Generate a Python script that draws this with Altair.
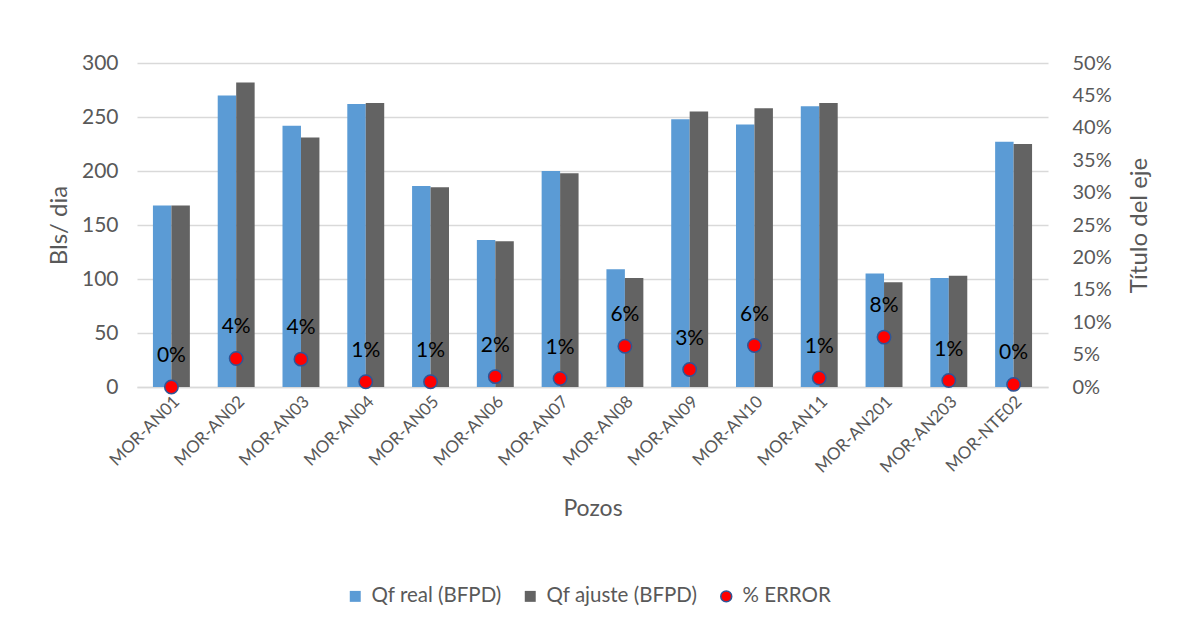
import altair as alt
import pandas as pd

wells = ["MOR-AN01", "MOR-AN02", "MOR-AN03", "MOR-AN04", "MOR-AN05", "MOR-AN06", "MOR-AN07",
         "MOR-AN08", "MOR-AN09", "MOR-AN10", "MOR-AN11", "MOR-AN201", "MOR-AN203", "MOR-NTE02"]
qf_real = [168, 270, 242, 262, 186, 136, 200, 109, 248, 243, 260, 105, 101, 227]
qf_ajuste = [168, 282, 231, 263, 185, 135, 198, 101, 255, 258, 263, 97, 103, 225]
error_pct = [0.000, 0.044, 0.043, 0.008, 0.008, 0.016, 0.013, 0.063, 0.027, 0.064, 0.014, 0.077, 0.010, 0.004]

series_names = ["Qf real (BFPD)", "Qf ajuste (BFPD)", "% ERROR"]
series_colors = ["#5B9BD5", "#636363", "#FF0000"]
left_ticks = [0, 50, 100, 150, 200, 250, 300]
right_ticks = [0, 0.05, 0.10, 0.15, 0.20, 0.25, 0.30, 0.35, 0.40, 0.45, 0.50]

bar_rows = []
for w, r, a in zip(wells, qf_real, qf_ajuste):
    bar_rows.append({"well": w, "series": series_names[0], "value": r})
    bar_rows.append({"well": w, "series": series_names[1], "value": a})
bar_df = pd.DataFrame(bar_rows)
err_df = pd.DataFrame({"well": wells, "err": error_pct, "series": series_names[2]})

FONT = "Lato"
GRAY = "#595959"

legend = alt.Legend(
    orient="none", legendX=208, legendY=523, direction="horizontal", title=None,
    labelFontSize=20.5, labelFont=FONT, labelColor=GRAY, labelLimit=400,
    symbolSize=120, symbolStrokeWidth=1.5, columnPadding=18, labelOffset=6,
)
color_enc = alt.Color("series:N", scale=alt.Scale(domain=series_names, range=series_colors), legend=legend)

x_enc = alt.X(
    "well:N", sort=wells, title="Pozos",
    scale=alt.Scale(paddingInner=0.43, paddingOuter=0.246),
    axis=alt.Axis(labelAngle=315, labelFontSize=17, labelFont=FONT, labelColor=GRAY,
                  ticks=False, tickSize=0, labelPadding=6, domainColor="#D9D9D9", domainWidth=1.5,
                  titleFontSize=23, titleFont=FONT, titleColor=GRAY, titleFontWeight="normal",
                  titlePadding=22, grid=False),
)

bars = alt.Chart(bar_df).mark_bar().encode(
    x=x_enc,
    xOffset=alt.XOffset("series:N", sort=series_names[:2], scale=alt.Scale(paddingInner=0, paddingOuter=0)),
    y=alt.Y("value:Q", scale=alt.Scale(domain=[0, 300]),
            axis=alt.Axis(values=left_ticks, title="Bls/ dia", grid=True, gridColor="#D9D9D9", gridWidth=1.5,
                          domain=False, ticks=False, tickSize=0, labelPadding=19,
                          labelFontSize=21, labelFont=FONT, labelColor=GRAY,
                          titleFontSize=24, titleFont=FONT, titleColor=GRAY, titleFontWeight="normal",
                          titlePadding=10)),
    color=color_enc,
)

right_axis = alt.Axis(orient="right", values=right_ticks, format=".0%", grid=False, domain=False,
                      ticks=False, tickSize=0, labelPadding=24, labelOverlap=False, labelBound=False,
                      labelFontSize=20, labelFont=FONT, labelColor=GRAY,
                      title="Título del eje", titleAngle=270, titleBaseline="top",
                      titleFontSize=24, titleFont=FONT,
                      titleColor=GRAY, titleFontWeight="normal", titlePadding=16)
y_right = alt.Y("err:Q", scale=alt.Scale(domain=[0, 0.5]), axis=right_axis)

points = alt.Chart(err_df).mark_point(filled=True, size=180, strokeWidth=1.5, opacity=1).encode(
    x=alt.X("well:N", sort=wells),
    y=y_right,
    color=color_enc,
    shape=alt.Shape("series:N", scale=alt.Scale(domain=series_names, range=["square", "square", "circle"]),
                    legend=legend),
    stroke=alt.Stroke("series:N", scale=alt.Scale(domain=series_names,
                                                  range=["transparent", "transparent", "#2F5597"]),
                      legend=legend),
)

labels = alt.Chart(err_df).mark_text(dy=-31, fontSize=21, font=FONT, color="#000000").encode(
    x=alt.X("well:N", sort=wells),
    y=y_right,
    text=alt.Text("err:Q", format=".0%"),
)

chart = alt.layer(bars, alt.layer(points, labels)).resolve_scale(y="independent").properties(
    width=911, height=324,
    autosize=alt.AutoSizeParams(type="none"),
    padding={"left": 129, "top": 55, "right": 133, "bottom": 235},
    background="white",
).configure_view(stroke=None)

chart.save("out.html", embed_options={"renderer": "svg", "actions": False})
